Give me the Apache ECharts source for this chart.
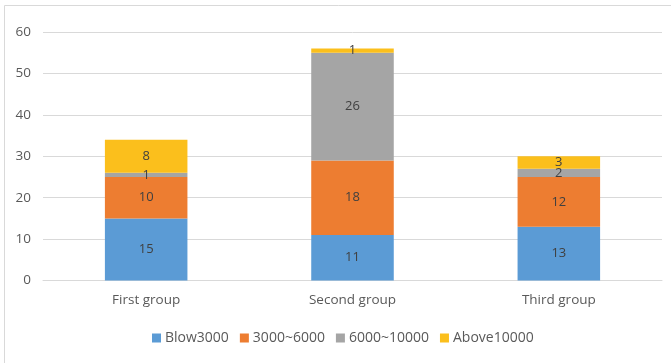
<!DOCTYPE html>
<html>
<head>
<meta charset="utf-8">
<script src="https://cdn.jsdelivr.net/npm/echarts@6/dist/echarts.min.js"></script>
<style>
  html, body { margin: 0; padding: 0; background: #fff; }
  #chart { width: 671px; height: 363px; }
</style>
</head>
<body>
<div id="chart"></div>
<script>
// Income bands per group
const categories = ['First group', 'Second group', 'Third group'];
const seriesNames = ['Blow3000', '3000~6000', '6000~10000', 'Above10000'];
const blow3000 = [15, 11, 13];
const band3000to6000 = [10, 18, 12];
const band6000to10000 = [1, 26, 2];
const above10000 = [8, 1, 3];
const yTicks = [0, 10, 20, 30, 40, 50, 60];

const values = [blow3000, band3000to6000, band6000to10000, above10000];
const colors = ['#5B9BD5', '#ED7D31', '#A5A5A5', '#FBBF1C'];
const fontFamily = '"Open Sans", "Noto Sans", sans-serif';

const chart = echarts.init(document.getElementById('chart'));
chart.setOption({
  animation: false,
  graphic: [{
    type: 'rect',
    shape: { x: 4.5, y: 5.5, width: 700, height: 400 },
    style: { fill: 'none', stroke: '#d9d9d9', lineWidth: 1 },
    silent: true
  }],
  grid: { left: 43, right: 9, top: 32, bottom: 82.5, containLabel: false },
  legend: {
    data: seriesNames,
    bottom: 13,
    left: 147,
    itemWidth: 9,
    itemHeight: 9,
    itemGap: 11,
    icon: 'rect',
    textStyle: { color: '#595959', fontSize: 14, fontFamily: fontFamily, padding: [0, 0, 0, -1] }
  },
  xAxis: {
    type: 'category',
    data: categories,
    axisLine: { lineStyle: { color: '#d9d9d9' } },
    axisTick: { show: false },
    axisLabel: { color: '#595959', fontSize: 13.5, fontFamily: fontFamily, margin: 13 }
  },
  yAxis: {
    type: 'value',
    min: yTicks[0],
    max: yTicks[yTicks.length - 1],
    interval: 10,
    axisLine: { show: false },
    axisTick: { show: false },
    splitLine: { lineStyle: { color: '#d9d9d9' } },
    axisLabel: { color: '#595959', fontSize: 13.5, fontFamily: fontFamily, margin: 12 }
  },
  series: seriesNames.map((name, i) => ({
    name: name,
    type: 'bar',
    stack: 'total',
    barWidth: '40%',
    data: values[i],
    itemStyle: { color: colors[i] },
    label: {
      show: true,
      position: 'inside',
      color: '#404040',
      fontSize: 13,
      fontFamily: fontFamily
    }
  }))
});
</script>
</body>
</html>
